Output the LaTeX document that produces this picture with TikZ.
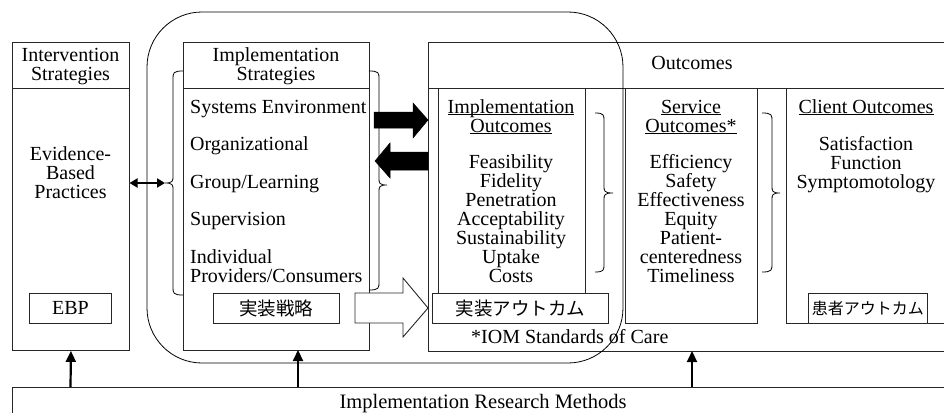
\documentclass[tikz,border=0pt]{standalone}
\usepackage{fontspec}
\setmainfont{Liberation Serif}
\newfontfamily\jp{Noto Sans CJK JP}
\usetikzlibrary{arrows.meta}
\newcommand\myul[1]{\underline{\smash{#1}}}
\newcommand\mybrace[6]{%
  \draw[bracestyle] (#1,#4) .. controls ({#2},#4) and (#2,{#4+2}) .. (#2,{#4+8})
    -- (#2,{#5-7}) .. controls (#2,{#5-2}) and ({#2},#5) .. (#3,#5)
    .. controls ({#2},#5) and (#2,{#5+2}) .. (#2,{#5+7})
    -- (#2,{#6-8}) .. controls (#2,{#6-2}) and ({#2},#6) .. (#1,#6);}
\begin{document}
\begin{tikzpicture}[x=1pt,y=-1pt,
  box/.style={draw=black!85, line width=0.9pt, inner sep=0pt, anchor=north west},
  lbox/.style={box, fill=white, font=\fontsize{20}{19}\selectfont},
  jbox/.style={box, fill=white, font=\jp\fontsize{18.5}{19}\selectfont},
  txt/.style={font=\fontsize{20}{19}\selectfont, inner sep=0pt, align=center, anchor=base},
  ltxt/.style={font=\fontsize{20}{19}\selectfont, inner sep=0pt, align=left, anchor=base west},
  bracestyle/.style={draw=black, line width=0.8pt},
  uparrow/.style={line width=2.2pt, -{Triangle[length=11pt,width=10pt]}},
  dblarrow/.style={line width=1.8pt, {Triangle[length=8pt,width=9pt]}-{Triangle[length=8pt,width=9pt]}},
  blockarrow/.style={fill=black, draw=black, line width=0.5pt},
  hollowarrow/.style={fill=white, draw=black!85, line width=0.9pt}]
\path[use as bounding box] (0,0) rectangle (944,412);
\clip (0,0) rectangle (944,412);
\fill[white] (0,0) rectangle (944,412);

% Intervention strategies box (multi-line nodes: anchor at last baseline)
\node[box, minimum width=117pt, minimum height=308pt] (ivbox) at (12,42) {};
\draw[draw=black!85, line width=0.9pt] (ivbox.west |- 0,88) -- (ivbox.east |- 0,88);
\node[txt] (ivhead) at (70.5,81) {Intervention\\Strategies};
\node[txt] (ebptext) at (70.5,198) {Evidence-\\Based\\Practices};
\node[lbox, minimum width=82pt, minimum height=30pt] (ebp) at (29,293) {EBP};

% Implementation strategies box
\node[box, minimum width=186pt, minimum height=308pt] (isbox) at (183,42) {};
\draw[draw=black!85, line width=0.9pt] (isbox.west |- 0,88) -- (isbox.east |- 0,88);
\node[txt] (ishead) at (276,81) {Implementation\\Strategies};
\node[ltxt] (s1) at (190,113) {Systems Environment};
\node[ltxt] (s2) at (190,150) {Organizational};
\node[ltxt] (s3) at (190,188) {Group/Learning};
\node[ltxt] (s4) at (190,225) {Supervision};
\node[ltxt] (s5) at (190,282) {Individual\\Providers/Consumers};
\node[jbox, minimum width=126pt, minimum height=30pt] (jissen) at (213,293) {実装戦略};

% Outcomes box
\node[box, minimum width=540pt, minimum height=309pt] (outbox) at (428,42) {};
\draw[draw=black!85, line width=0.9pt] (outbox.west |- 0,88) -- (960,88);
\node[txt] (outhead) at (692,70) {Outcomes};

% Implementation outcomes column
\draw[draw=black!85, line width=0.9pt] (438,88) coordinate (io1) -- (438,293) coordinate (io2);
\draw[draw=black!85, line width=0.9pt] (585,88) coordinate (io3) -- (585,293) coordinate (io4);
\node[txt] (iohead) at (511,132) {\myul{Implementation}\\\myul{Outcomes}};
\node[txt] (iolist) at (511,282) {Feasibility\\Fidelity\\Penetration\\Acceptability\\Sustainability\\Uptake\\Costs};
\node[jbox, minimum width=176pt, minimum height=30pt] (jiout) at (432,293) {実装アウトカム};

% Service outcomes column
\node[box, minimum width=132pt, minimum height=235pt] (svbox) at (625,88) {};
\node[txt] (svhead) at (691,132) {\myul{Service}\\\myul{Outcomes*}};
\node[txt] (svlist) at (691,282) {Efficiency\\Safety\\Effectiveness\\Equity\\Patient-\\centeredness\\Timeliness};

% Client outcomes column
\draw[draw=black!85, line width=0.9pt] (786,88) coordinate (cl1) -- (786,323) coordinate (cl2) -- (960,323);
\node[txt] (clhead) at (866,113) {\myul{Client Outcomes}};
\node[txt] (cllist) at (866,188) {Satisfaction\\Function\\Symptomotology};
\node[box, fill=white, minimum width=119pt, minimum height=30pt, font=\jp\fontsize{16}{17}\selectfont] (kanja) at (808,293) {患者アウトカム};

\node[font=\fontsize{20}{19}\selectfont, inner sep=0pt, anchor=base west] (iom) at (471,343) {*IOM Standards of Care};

% Big rounded outline
\draw[draw=black, line width=0.8pt, rounded corners=55pt] (147,12) rectangle (623,363);

% Braces
\mybrace{183}{173}{165}{71}{183}{295}
\mybrace{369}{379}{387}{71}{185}{290}
\mybrace{595}{604}{613}{113}{193}{272}
\mybrace{762}{772}{780}{113}{193}{272}

% Double arrow
\coordinate (dl) at (129.5,183);
\coordinate (dr) at (165,183);
\draw[dblarrow] (dl) -- (dr);

% Block arrows
\path[blockarrow] (374,112) -- (413,112) -- (413,103) -- (428,120) -- (413,138) -- (413,128) -- (374,128) -- cycle;
\path[blockarrow] (428,152) -- (390,152) -- (390,143) -- (375,161) -- (390,178) -- (390,170) -- (428,170) -- cycle;
\path[hollowarrow] (355,293) -- (403,293) -- (403,278) -- (428,308) -- (403,337) -- (403,323) -- (355,323) -- cycle;

% Research methods bar
\node[box, minimum width=960pt, minimum height=40pt] (bar) at (12,387) {};
\node[font=\fontsize{20.5}{19}\selectfont, inner sep=0pt, anchor=base] (bartext) at (483,408) {Implementation Research Methods};

\coordinate (b1) at (70.5,387);
\coordinate (b2) at (298,387);
\coordinate (b3) at (692,387);
\draw[uparrow] (b1) -- (ivbox.south);
\draw[uparrow] (b2) -- (298,350);
\draw[uparrow] (b3) -- (692,351);
\end{tikzpicture}
\end{document}
